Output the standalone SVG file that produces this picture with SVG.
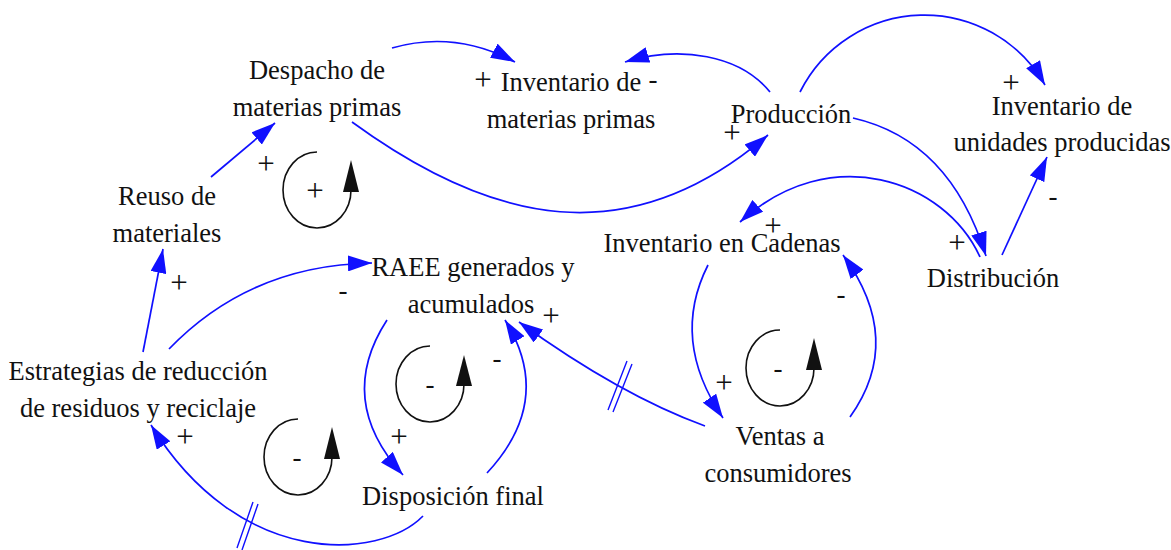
<svg xmlns="http://www.w3.org/2000/svg" width="1171" height="550" viewBox="0 0 1171 550">
<style>
.lbl{font-family:"Liberation Serif","Times New Roman",serif;font-size:26.5px;fill:#111;text-anchor:middle}
.sp{font-family:"Liberation Serif","Times New Roman",serif;font-size:31px;fill:#111;text-anchor:middle}
.sm{font-family:"Liberation Serif","Times New Roman",serif;font-size:27px;fill:#111;text-anchor:middle}
.ln{fill:none;stroke:#1010ff;stroke-width:1.7}
.dl{fill:none;stroke:#1010ff;stroke-width:1.4}
.lp{fill:none;stroke:#111;stroke-width:1.6}
.lh{fill:#111}
</style>
<defs>
<marker id="ah" viewBox="0 0 24 16" refX="24" refY="8" markerWidth="24" markerHeight="16" markerUnits="userSpaceOnUse" orient="auto">
<path d="M0,0 L24,8 L0,16 z" fill="#1010ff"/>
</marker>
</defs>
<rect width="1171" height="550" fill="#fff"/>

<g id="connectors">
<path class="ln" d="M211,177 L275,123" marker-end="url(#ah)"/>
<path class="ln" d="M392,48 Q455,30 515,62" marker-end="url(#ah)"/>
<path class="ln" d="M770,92 C740,55 680,45 625,62" marker-end="url(#ah)"/>
<path class="ln" d="M352,122 C492,224 628,255 768,135" marker-end="url(#ah)"/>
<path class="ln" d="M800,92 A139,139 0 0 1 1045,85" marker-end="url(#ah)"/>
<path class="ln" d="M853,118 Q950,140 986,256" marker-end="url(#ah)"/>
<path class="ln" d="M980,257 C945,180 830,140 740,222" marker-end="url(#ah)"/>
<path class="ln" d="M1002,255 L1047,157" marker-end="url(#ah)"/>
<path class="ln" d="M708,265 Q670,340 723,418" marker-end="url(#ah)"/>
<path class="ln" d="M850,417 Q905,340 843,255" marker-end="url(#ah)"/>
<path class="ln" d="M705,426 Q620,395 519,322" marker-end="url(#ah)"/>
<path class="dl" d="M627,361 L608,410 M632,364 L613,412"/>
<path class="ln" d="M169,349 Q250,265 372,263" marker-end="url(#ah)"/>
<path class="ln" d="M143,352 L163,249" marker-end="url(#ah)"/>
<path class="ln" d="M387,320 Q335,400 403,475" marker-end="url(#ah)"/>
<path class="ln" d="M487,473 Q555,400 505,320" marker-end="url(#ah)"/>
<path class="ln" d="M423,516 C380,560 240,570 151,425" marker-end="url(#ah)"/>
<path class="dl" d="M253,502 L237,548 M258,504 L242,550"/>
</g>

<g id="despacho"><text class="lbl" x="317" y="79">Despacho de</text><text class="lbl" x="317" y="116">materias primas</text></g>
<g id="inventario-mp"><text class="lbl" x="571" y="91">Inventario de</text><text class="lbl" x="571" y="128">materias primas</text></g>
<g id="produccion"><text class="lbl" x="791" y="123">Producción</text></g>
<g id="inventario-up"><text class="lbl" x="1062" y="115">Inventario de</text><text class="lbl" x="1062" y="151">unidades producidas</text></g>
<g id="distribucion"><text class="lbl" x="993" y="287">Distribución</text></g>
<g id="inventario-cadenas"><text class="lbl" x="722" y="252">Inventario en Cadenas</text></g>
<g id="reuso"><text class="lbl" x="167" y="205">Reuso de</text><text class="lbl" x="167" y="242">materiales</text></g>
<g id="estrategias"><text class="lbl" x="138" y="380">Estrategias de reducción</text><text class="lbl" x="138" y="417">de residuos y reciclaje</text></g>
<g id="raee"><text class="lbl" x="473" y="276">RAEE generados y</text><text class="lbl" x="471" y="313">acumulados</text></g>
<g id="disposicion"><text class="lbl" x="453" y="505">Disposición final</text></g>
<g id="ventas"><text class="lbl" x="780" y="445">Ventas a</text><text class="lbl" x="778" y="482">consumidores</text></g>

<g id="polarities">
<text class="sp" x="266" y="174">+</text>
<text class="sp" x="483" y="90">+</text>
<text class="sm" x="653" y="88">-</text>
<text class="sp" x="732" y="143">+</text>
<text class="sp" x="1011" y="93">+</text>
<text class="sm" x="1053" y="205">-</text>
<text class="sp" x="957" y="253">+</text>
<text class="sp" x="773" y="236">+</text>
<text class="sm" x="841" y="303">-</text>
<text class="sp" x="724" y="393">+</text>
<text class="sp" x="551" y="326">+</text>
<text class="sm" x="497" y="367">-</text>
<text class="sp" x="399" y="447">+</text>
<text class="sm" x="343" y="299">-</text>
<text class="sp" x="179" y="293">+</text>
<text class="sp" x="185" y="447">+</text>
</g>

<g id="loop-r1">
<path class="lp" d="M317,152 A34,38 0 1 0 351,190"/>
<path class="lh" d="M351,160 L343,192 L359,192 z"/>
<text class="sp" x="315" y="201">+</text>
</g>
<g id="loop-b1">
<path class="lp" d="M430,346 A34,38 0 1 0 464,384"/>
<path class="lh" d="M464,355 L456,386 L472,386 z"/>
<text class="sm" x="430" y="393">-</text>
</g>
<g id="loop-b2">
<path class="lp" d="M298,419 A34,38 0 1 0 332,457"/>
<path class="lh" d="M332,427 L324,459 L340,459 z"/>
<text class="sm" x="297" y="466">-</text>
</g>
<g id="loop-b3">
<path class="lp" d="M780,330 A34,38 0 1 0 814,368"/>
<path class="lh" d="M814,338 L806,370 L822,370 z"/>
<text class="sm" x="778" y="377">-</text>
</g>
</svg>
